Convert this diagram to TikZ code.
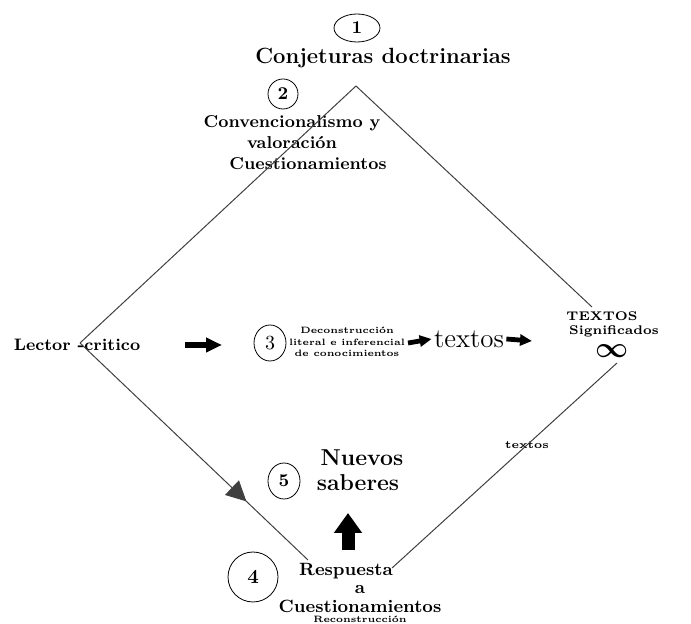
\documentclass[tikz,border=0pt]{standalone}
\usepackage{amsmath,amssymb}
\usetikzlibrary{arrows.meta,calc,shapes.geometric}

\begin{document}
\begin{tikzpicture}[x=0.5pt, y=-0.5pt, >=Stealth,
    num/.style={draw, ellipse, thin, inner sep=0pt, minimum width=16pt, minimum height=18pt, font=\fontsize{9}{10}\selectfont\bfseries},
    txt/.style={align=center, font=\bfseries, inner sep=1pt},
    line/.style={draw, black!75, line width=0.5pt},
    fat/.style={-{Triangle[length=8pt, width=7pt]}, line width=3.2pt}]
  \useasboundingbox (0,0) rectangle (691,624);
  % ---------------- top ----------------
  \node[num, minimum width=23pt, minimum height=14pt] (n1) at (357,28) {1};
  \node[txt, font=\fontsize{11}{12}\selectfont\bfseries] (conj) at (383,58) {Conjeturas doctrinarias};
  \node[num, minimum width=15pt, minimum height=15pt] (n2) at (283,94) {2};
  \node[txt, font=\fontsize{8.6}{10.5}\selectfont\bfseries] (conv) at (292,143)
       {Convencionalismo y\\ valoración\\ \hspace*{16pt}Cuestionamientos};
  % ---------------- middle row ----------------
  \node[txt, font=\fontsize{8.3}{9}\selectfont\bfseries] (lector) at (77,345) {Lector -critico};
  \node[num, font=\fontsize{10}{11}\selectfont] (n3) at (270,343) {3};
  \node[txt, font=\fontsize{4.6}{5.8}\selectfont\bfseries] (decon) at (347,342)
       {Deconstrucción\\ literal e inferencial\\ de conocimientos};
  \node[font=\fontsize{13.5}{14}\selectfont, inner sep=1pt] (textos) at (469,339) {textos};
  \node[txt, font=\fontsize{6.3}{7}\selectfont\bfseries, inner sep=0pt, anchor=north] (sig) at (602,311)
       {TEXTOS\\ \hspace*{12pt}Significados\\[3pt] \hspace*{10pt}{\fontsize{15}{15}\selectfont$\boldsymbol{\infty}$}};
  \draw[fat] (185,345) -- (222,345);
  \draw[fat, line width=2.4pt, -{Triangle[length=6pt, width=5.5pt]}] (408,343) -- (textos.west);
  \draw[fat, line width=2.4pt, -{Triangle[length=6pt, width=5.5pt]}] (textos.east) -- (532,341);
  % ---------------- bottom ----------------
  \node[num] (n5) at (284,481) {5};
  \node[txt, font=\fontsize{11.5}{12.5}\selectfont\bfseries] (nuevos) at (358,470) {\hspace*{4pt}Nuevos\\ saberes};
  \node[num, minimum width=25pt, minimum height=25pt, font=\fontsize{10}{11}\selectfont\bfseries] (n4) at (253,577) {4};
  \node[txt, font=\fontsize{8.9}{9.4}\selectfont\bfseries] (resp) at (360,588)
       {\hspace*{-14pt}Respuesta\\ a\\ Cuestionamientos};
  \node[txt, font=\fontsize{4.6}{5}\selectfont\bfseries, anchor=north, inner sep=0pt] (recon) at (resp.south) {Reconstrucción};
  \node[txt, font=\fontsize{5.4}{6}\selectfont\bfseries] (tx) at (527,445) {textos};
  \draw[-{Triangle[length=10pt, width=13.5pt]}, line width=6.5pt] (348,550) -- (348,513);
  % ---------------- diamond ----------------
  \coordinate (lv) at (80,343);
  \coordinate (apex) at (356,86);
  \coordinate (rt) at (592,307);
  \coordinate (rb) at (617,363);
  \coordinate (bot) at (392,568);
  \coordinate (bl) at (308,560);
  \path[line] (lv) -- (apex) -- (rt);
  \path[line] (rb) -- (bot);
  \draw[line, -{Triangle[length=10pt, width=10pt]}] (lv) -- ($(lv)!0.73!(bl)$);
  \path[line] ($(lv)!0.7!(bl)$) -- (bl);
\end{tikzpicture}
\end{document}
